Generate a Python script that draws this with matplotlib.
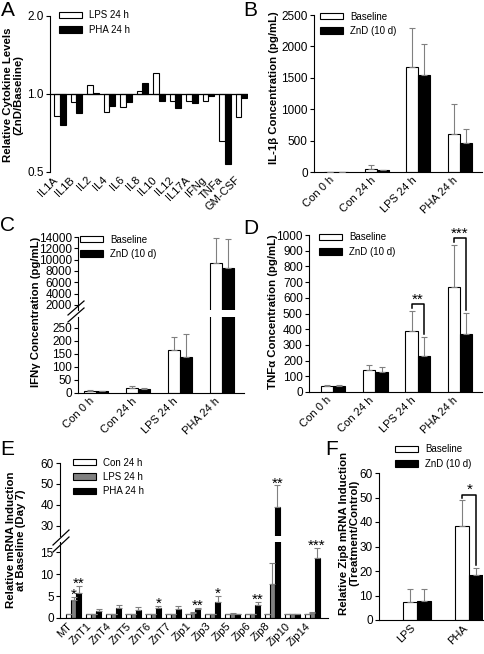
"""
Zinc depletion figure: cytokines and zinc transporter mRNA (panels A-F)
"""

import numpy as np
import matplotlib
matplotlib.use("Agg")
from matplotlib import pyplot as plt
from matplotlib.patches import Patch
from matplotlib.lines import Line2D

# ---- data ----
cytokines = ["IL1A", "IL1B", "IL2", "IL4", "IL6", "IL8", "IL10", "IL12",
             "IL17A", "IFNg", "TNFa", "GM-CSF"]
ratio_lps = [0.825, 0.934, 1.08, 0.85, 0.889, 1.03, 1.20, 0.943, 0.943,
             0.937, 0.658, 0.813]
ratio_pha = [0.756, 0.845, 1.005, 0.902, 0.934, 1.10, 0.937, 0.886, 0.923,
             0.985, 0.535, 0.965]

conditions = ["Con 0 h", "Con 24 h", "LPS 24 h", "PHA 24 h"]
il1b_base = [2, 55, 1670, 600]
il1b_base_err = [1, 55, 620, 490]
il1b_znd = [2, 25, 1550, 460]
il1b_znd_err = [1, 12, 490, 220]

ifng_base = [8, 20, 166, 9400]
ifng_base_err = [3, 6, 48, 4500]
ifng_znd = [6, 17, 140, 8500]
ifng_znd_err = [2, 2, 88, 5200]

tnfa_base = [38, 140, 390, 670]
tnfa_base_err = [7, 35, 128, 268]
tnfa_znd = [38, 125, 230, 372]
tnfa_znd_err = [7, 37, 118, 131]
tnfa_sig = ["", "", "**", "***"]

genes = ["MT", "ZnT1", "ZnT4", "ZnT5", "ZnT6", "ZnT7", "Zip1", "Zip3",
         "Zip5", "Zip6", "Zip8", "Zip10", "Zip14"]
mrna_con = [1, 1, 1, 1, 1, 1, 1, 1, 1, 1, 1, 1, 1]
mrna_lps = [4.1, 0.9, 1.0, 0.9, 0.8, 1.0, 1.2, 0.9, 1.0, 0.8, 7.7, 0.9, 1.2]
mrna_lps_err = [0.7, 0, 0, 0, 0, 0, 0.2, 0, 0.2, 0, 4.8, 0, 0.1]
mrna_pha = [5.7, 1.5, 2.2, 1.8, 2.3, 2.0, 2.1, 3.7, 0.8, 3.0, 39.0, 0.9, 13.7]
mrna_pha_err = [1.6, 0.6, 0.7, 0.6, 0.5, 0.7, 0.2, 1.4, 0, 0.6, 10.4, 0, 2.3]
mrna_lps_sig = ["*", "", "", "", "", "", "", "", "", "", "", "", ""]
mrna_pha_sig = ["**", "", "", "", "*", "", "**", "*", "", "**", "**", "",
                "***"]

treatments = ["LPS", "PHA"]
zip8_base = [7.5, 38.5]
zip8_base_err = [5.0, 10.3]
zip8_znd = [7.6, 18.3]
zip8_znd_err = [5.0, 2.8]
zip8_sig = ["", "*"]

# ---- figure ----
W, H = 484, 654
plt.rcParams["font.family"] = ["Liberation Sans", "DejaVu Sans"]
plt.rcParams["font.size"] = 8

fig = plt.figure(figsize=(W / 100, H / 100), dpi=100)

GREY_ERR = "0.5"


def add_axes(l, t, r, b):
    ax = fig.add_axes([l / W, 1 - b / H, (r - l) / W, (b - t) / H])
    ax.spines["top"].set_visible(False)
    ax.spines["right"].set_visible(False)
    for s in ax.spines.values():
        s.set_linewidth(0.8)
    ax.tick_params(axis="y", direction="out", length=3, width=0.8,
                   labelsize=8.5, pad=1.5)
    ax.tick_params(axis="x", length=0, labelsize=8, pad=2)
    return ax


def px_line(x0, y0, x1, y1):
    fig.add_artist(Line2D([x0 / W, x1 / W], [1 - y0 / H, 1 - y1 / H],
                          transform=fig.transFigure, color="black", lw=0.9))


def ylabel(x, y, text):
    fig.text(x / W, 1 - y / H, text, rotation=90, ha="center", va="center",
             fontsize=8.2, fontweight="bold", multialignment="center",
             linespacing=1.0)


def letter(x, y, s):
    fig.text(x / W, 1 - y / H, s, ha="left", va="top", fontsize=15)


def legend_at(ax, colors, labels, x, y, fontsize=7):
    handles = [Patch(facecolor=c, edgecolor="black", linewidth=0.8)
               for c in colors]
    ax.legend(handles, labels, loc="upper left",
              bbox_to_anchor=(x / W, 1 - (y - 5.5) / H),
              bbox_transform=fig.transFigure, frameon=False,
              fontsize=fontsize, handlelength=2.4, handleheight=0.6,
              handletextpad=0.7, labelspacing=0.45, borderpad=0,
              borderaxespad=0)


def group_bars(ax, series, errs, colors, width):
    n = len(series)
    x = np.arange(len(series[0]))
    for k in range(n):
        xs = x + (k - (n - 1) / 2) * width
        ax.bar(xs, series[k], width, color=colors[k], edgecolor="black",
               linewidth=0.8, zorder=2)
        e = np.asarray(errs[k], dtype=float)
        ax.errorbar(xs, series[k], yerr=[np.zeros_like(e), e], fmt="none",
                    ecolor=GREY_ERR, elinewidth=0.8, capsize=2.2,
                    capthick=0.8, zorder=3)


def bracket(ax, x1, x2, y1, y2, pad, text):
    top = max(y1, y2) + 2 * pad
    ax.plot([x1, x1, x2, x2], [y1 + pad, top, top, y2 + pad], color="black",
            lw=1.1, clip_on=False, zorder=4)
    ax.annotate(text, xy=((x1 + x2) / 2, top), xytext=(0, 0.5),
                textcoords="offset points", ha="center", va="baseline",
                fontsize=11, annotation_clip=False)


# ---- A ----
axA = add_axes(50, 16, 248, 172)
axA.set_yscale("log", base=2)
xa = np.arange(len(cytokines))
wa = 0.35
axA.bar(xa - wa / 2, np.array(ratio_lps) - 1, wa, bottom=1, color="white",
        edgecolor="black", linewidth=0.8)
axA.bar(xa + wa / 2, np.array(ratio_pha) - 1, wa, bottom=1, color="black",
        edgecolor="black", linewidth=0.8)
axA.axhline(1.0, color="black", lw=0.9)
axA.set_ylim(0.5, 2.0)
axA.set_yticks([0.5, 1.0, 2.0])
axA.set_yticklabels(["0.5", "1.0", "2.0"])
axA.minorticks_off()
axA.spines["bottom"].set_visible(False)
axA.set_xlim(-0.6, 11.4)
axA.set_xticks(xa)
axA.set_xticklabels(cytokines, rotation=45, ha="right")
legend_at(axA, ["white", "black"], ["LPS 24 h", "PHA 24 h"], 59, 16)
ylabel(13, 95, "Relative Cytokine Levels\n(ZnD/Baseline)")
letter(1, 1, "A")

# ---- B ----
axB = add_axes(314, 15, 482, 172)
group_bars(axB, [il1b_base, il1b_znd], [il1b_base_err, il1b_znd_err],
           ["white", "black"], 0.29)
axB.set_ylim(0, 2500)
axB.set_yticks(np.arange(0, 2501, 500))
axB.set_xlim(-0.53, 3.54)
axB.set_xticks(range(4))
axB.set_xticklabels(conditions, rotation=45, ha="right")
legend_at(axB, ["white", "black"], ["Baseline", "ZnD (10 d)"], 320, 17)
ylabel(274, 88, "IL-1\u03b2 Concentration (pg/mL)")
letter(243, 1, "B")

# ---- C (broken axis) ----
axCu = add_axes(78, 237, 244, 310)
axCl = add_axes(78, 317, 244, 393)
for ax in (axCu, axCl):
    group_bars(ax, [ifng_base, ifng_znd], [ifng_base_err, ifng_znd_err],
               ["white", "black"], 0.29)
    ax.set_xlim(-0.43, 3.52)
axCu.set_ylim(1100, 14000)
axCu.set_yticks(np.arange(2000, 14001, 2000))
axCu.spines["bottom"].set_visible(False)
axCu.set_xticks([])
axCl.set_ylim(0, 292)
axCl.set_yticks(np.arange(0, 251, 50))
axCl.set_xticks(range(4))
axCl.set_xticklabels(conditions, rotation=45, ha="right")
px_line(68, 315, 84, 301)
px_line(68, 322, 84, 308)
legend_at(axCu, ["white", "black"], ["Baseline", "ZnD (10 d)"], 80, 240)
ylabel(36, 312, "IFN\u03b3 Concentration (pg/mL)")
letter(0, 216, "C")

# ---- D ----
axD = add_axes(309, 235, 482, 392)
group_bars(axD, [tnfa_base, tnfa_znd], [tnfa_base_err, tnfa_znd_err],
           ["white", "black"], 0.29)
axD.set_ylim(0, 1000)
axD.set_yticks(np.arange(0, 1001, 100))
axD.set_xlim(-0.57, 3.52)
axD.set_xticks(range(4))
axD.set_xticklabels(conditions, rotation=45, ha="right")
for i, s in enumerate(tnfa_sig):
    if s:
        bracket(axD, i - 0.145, i + 0.145,
                tnfa_base[i] + tnfa_base_err[i],
                tnfa_znd[i] + tnfa_znd_err[i], 20, s)
legend_at(axD, ["white", "black"], ["Baseline", "ZnD (10 d)"], 319, 238)
ylabel(273, 312, "TNF\u03b1 Concentration (pg/mL)")
letter(243, 219, "D")

# ---- E (broken axis) ----
axEu = add_axes(60, 463, 328, 536)
axEl = add_axes(60, 542, 328, 618)
we = 0.25
for ax in (axEu, axEl):
    group_bars(ax, [mrna_con, mrna_lps, mrna_pha],
               [np.zeros(len(genes)), mrna_lps_err, mrna_pha_err],
               ["white", "#808080", "black"], we)
    ax.set_xlim(-0.7, 12.8)
axEu.set_ylim(25.2, 60)
axEu.set_yticks([30, 40, 50, 60])
axEu.spines["bottom"].set_visible(False)
axEu.set_xticks([])
axEl.set_ylim(0, 17.3)
axEl.set_yticks([0, 5, 10, 15])
axEl.set_xticks(range(len(genes)))
axEl.set_xticklabels(genes, rotation=45, ha="right")
for sigs, vals, errs, off in ((mrna_lps_sig, mrna_lps, mrna_lps_err, 0),
                              (mrna_pha_sig, mrna_pha, mrna_pha_err, we)):
    for i, s in enumerate(sigs):
        if not s:
            continue
        top = vals[i] + errs[i]
        ax = axEu if top > 17.3 else axEl
        ax.annotate(s, xy=(i + off, top), xytext=(0, -1.5),
                    textcoords="offset points", ha="center", va="baseline",
                    fontsize=11, annotation_clip=False)
px_line(53, 545, 69, 530)
px_line(53, 552, 69, 537)
legend_at(axEu, ["white", "#808080", "black"],
          ["Con 24 h", "LPS 24 h", "PHA 24 h"], 73, 463)
ylabel(16, 540, "Relative mRNA Induction\nat Baseline (Day 7)")
letter(0, 440, "E")

# ---- F ----
axF = add_axes(379, 473, 483, 620)
group_bars(axF, [zip8_base, zip8_znd], [zip8_base_err, zip8_znd_err],
           ["white", "black"], 0.27)
axF.set_ylim(0, 60)
axF.set_yticks(np.arange(0, 61, 10))
axF.set_xlim(-0.72, 1.26)
axF.set_xticks(range(2))
axF.set_xticklabels(treatments, rotation=45, ha="right")
for i, s in enumerate(zip8_sig):
    if s:
        bracket(axF, i - 0.135, i + 0.135,
                zip8_base[i] + zip8_base_err[i],
                zip8_znd[i] + zip8_znd_err[i], 1.2, s)
legend_at(axF, ["white", "black"], ["Baseline", "ZnD (10 d)"], 395, 450)
ylabel(349, 533, "Relative Zip8 mRNA Induction\n(Treatment/Control)")
letter(325, 440, "F")

fig.savefig("out.png", dpi=100)
